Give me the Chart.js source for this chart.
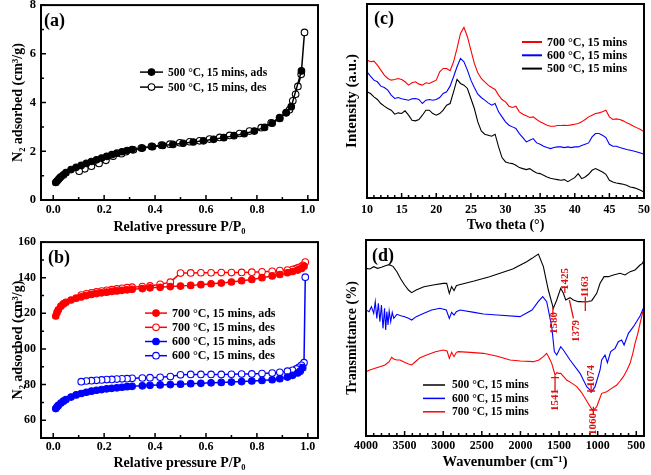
<!DOCTYPE html>
<html><head><meta charset="utf-8">
<script src="https://cdn.jsdelivr.net/npm/chart.js@4.4.0/dist/chart.umd.min.js"></script>
<style>
html,body{margin:0;padding:0;background:#fff;}
#wrap{position:relative;width:651px;height:475px;overflow:hidden;background:#fff;}
canvas{position:absolute;}
</style></head><body>
<div id="wrap">
<canvas id="cA" width="325" height="237" style="left:0;top:0"></canvas>
<canvas id="cB" width="325" height="238" style="left:0;top:237px"></canvas>
<canvas id="cC" width="326" height="237" style="left:325px;top:0"></canvas>
<canvas id="cD" width="326" height="238" style="left:325px;top:237px"></canvas>
</div>
<script>
// ---------- Panel (a): N2 isotherm, 500 °C ----------
const aAdsX = [0.01,0.015,0.02,0.025,0.03,0.04,0.05,0.07,0.09,0.11,0.13,0.15,0.17,0.19,0.21,0.23,0.25,0.27,0.29,0.31,0.35,0.39,0.43,0.47,0.51,0.55,0.59,0.63,0.67,0.71,0.75,0.79,0.83,0.86,0.89,0.915,0.935,0.975];
const aAdsY = [0.72,0.78,0.84,0.9,0.95,1.03,1.12,1.25,1.34,1.42,1.5,1.58,1.65,1.72,1.79,1.86,1.92,1.98,2.03,2.07,2.13,2.19,2.24,2.28,2.33,2.38,2.43,2.49,2.56,2.64,2.72,2.83,2.98,3.15,3.35,3.58,3.83,5.3];
const aDesX = [0.987,0.974,0.961,0.952,0.941,0.928,0.915,0.889,0.856,0.817,0.771,0.732,0.693,0.654,0.614,0.575,0.536,0.497,0.458,0.425,0.386,0.346,0.315,0.285,0.268,0.235,0.207,0.18,0.15,0.124,0.102];
const aDesY = [6.88,5.16,4.66,4.34,4.07,3.7,3.59,3.38,3.17,2.97,2.83,2.73,2.65,2.57,2.5,2.43,2.39,2.35,2.29,2.25,2.2,2.13,2.06,1.98,1.9,1.8,1.63,1.5,1.39,1.28,1.18];
const aXTicks = [0,0.2,0.4,0.6,0.8,1.0];
const aXLabels = ['0.0','0.2','0.4','0.6','0.8','1.0'];
const aYTicks = [0,2,4,6,8];
const aYLabels = ['0','2','4','6','8'];
const aSeriesNames = ['500 °C, 15 mins, ads','500 °C, 15 mins, des'];

// ---------- Panel (b): N2 isotherms, 600 / 700 °C ----------
const b700AdsX = [0.01,0.015,0.02,0.03,0.04,0.05,0.07,0.09,0.11,0.13,0.15,0.17,0.19,0.21,0.23,0.25,0.27,0.29,0.31,0.35,0.38,0.42,0.46,0.50,0.54,0.58,0.62,0.66,0.70,0.74,0.78,0.82,0.86,0.89,0.92,0.94,0.96,0.975,0.985];
const b700AdsY = [118.5,120.5,122,124,125.3,126.2,127.5,128.5,129.2,130,130.6,131.1,131.5,131.9,132.3,132.6,132.9,133.2,133.5,133.9,134.3,134.6,135,135.3,135.7,136.1,136.6,137,137.6,138.3,139,140,141,141.8,142.8,143.5,144.3,145.2,146.5];
const b700DesX = [0.99,0.98,0.97,0.96,0.95,0.94,0.92,0.89,0.86,0.82,0.78,0.74,0.70,0.66,0.62,0.58,0.54,0.50,0.46,0.42,0.38,0.35,0.31,0.29,0.27,0.25,0.23,0.21,0.19,0.17,0.15,0.13,0.11];
const b700DesY = [148.8,147,146,145.5,145,144.6,144.3,144,143.6,143.3,143.1,143,142.9,142.9,142.8,142.8,142.7,142.6,137.5,136.3,135.4,135,134.7,134.4,134.1,133.7,133.3,132.9,132.5,132,131.5,131,130.3];
const b600AdsX = [0.01,0.015,0.02,0.03,0.04,0.05,0.07,0.09,0.11,0.13,0.15,0.17,0.19,0.21,0.23,0.25,0.27,0.29,0.31,0.35,0.38,0.42,0.46,0.50,0.54,0.58,0.62,0.66,0.70,0.74,0.78,0.82,0.86,0.89,0.92,0.94,0.96,0.97,0.98];
const b600AdsY = [66.5,67.5,68.3,69.6,70.7,71.6,73,74.2,75,75.7,76.3,76.8,77.2,77.6,77.9,78.2,78.5,78.8,79,79.3,79.6,79.8,80,80.2,80.5,80.7,81,81.2,81.4,81.7,82,82.3,82.7,83.3,84.2,85.2,86.5,87.5,89.5];
const b600DesX = [0.99,0.985,0.975,0.965,0.955,0.94,0.92,0.89,0.86,0.82,0.78,0.74,0.70,0.66,0.62,0.58,0.54,0.50,0.46,0.42,0.38,0.35,0.31,0.29,0.27,0.25,0.23,0.21,0.19,0.17,0.15,0.13,0.11];
const b600DesY = [140.3,92.3,90.8,89.7,88.8,88,87.5,86.9,86.5,86.2,86,85.9,85.8,85.7,85.7,85.7,85.7,85.5,84.5,84.1,83.9,83.7,83.5,83.3,83.2,83.1,82.9,82.8,82.6,82.4,82.2,82,81.6];
const bXTicks = [0,0.2,0.4,0.6,0.8,1.0];
const bXLabels = ['0.0','0.2','0.4','0.6','0.8','1.0'];
const bYTicks = [60,80,100,120,140,160];
const bYLabels = ['60','80','100','120','140','160'];
const bSeriesNames = ['700 °C, 15 mins, ads','700 °C, 15 mins, des','600 °C, 15 mins, ads','600 °C, 15 mins, des'];

// ---------- Panel (c): XRD ----------
const cTheta = [10,10.5,11,11.5,12,12.5,13,13.5,14,14.5,15,15.5,16,16.5,17,17.5,18,18.5,19,19.5,20,20.5,21,21.5,22,22.5,23,23.5,24,24.5,25,25.5,26,26.5,27,27.5,28,28.5,29,29.5,30,30.5,31,31.5,32,32.5,33,33.5,34,34.5,35,35.5,36,36.5,37,37.5,38,38.5,39,39.5,40,40.5,41,41.5,42,42.5,43,43.5,44,44.5,45,45.5,46,46.5,47,47.5,48,48.5,49,49.5,50];
const c700 = [420,415,417,405,390,375,365,360,362,365, 362,355,345,352,355,348,345,352,350,355, 360,385,395,395,388,415,455,500,518,490, 450,410,382,365,355,345,338,332,315,302, 295,282,278,282,265,258,253,248,250,242, 235,230,225,222,222,224,224,225,224,226, 228,230,235,242,250,255,260,262,265,270, 250,242,244,242,238,232,228,222,217,212, 205];
const c600 = [385,372,360,355,342,338,330,315,305,308, 304,302,300,304,305,302,290,300,302,300, 302,308,320,325,342,370,400,425,415,390, 360,338,318,308,300,292,285,290,265,250, 235,225,220,215,200,188,175,180,185,172, 168,162,158,155,158,160,160,158,160,158, 160,160,164,168,172,190,200,200,195,188, 168,162,162,158,155,152,150,148,145,142, 138];
const c500 = [325,320,310,302,290,282,275,270,258,262, 260,268,255,240,238,242,255,270,270,260, 255,260,270,285,290,325,362,350,345,335, 305,275,235,208,198,195,192,198,160,128, 115,112,110,105,98,95,92,95,88,82, 80,75,70,66,64,62,60,62,56,62, 68,80,65,70,78,90,95,90,85,78, 60,55,52,50,48,45,40,38,35,30, 25];
const cXTicks = [10,15,20,25,30,35,40,45,50];
const cXLabels = ['10','15','20','25','30','35','40','45','50'];
const cSeriesNames = ['700 °C, 15 mins','600 °C, 15 mins','500 °C, 15 mins'];

// ---------- Panel (d): FTIR ----------
const d500X = [4000,3950,3900,3850,3800,3750,3700,3650,3600,3550,3500,3450,3410,3350,3250,3130,3000,2955,2921,2891,2860,2830,2804,2600,2400,2265,2100,1919,1850,1768,1703,1639,1574,1530,1479,1444,1414,1358,1315,1250,1142,1077,1012,969,917,861,796,710,645,580,516,451,420,400];
const d500T = [500,498,505,500,503,508,511,506,490,468,450,435,427,435,445,450,455,455,425,445,433,448,450,462,475,485,498,520,530,543,505,435,380,405,440,425,405,412,405,400,400,403,425,455,475,475,480,485,480,490,495,510,515,525];
const d600X = [4000,3960,3930,3900,3880,3860,3840,3820,3800,3780,3760,3745,3730,3715,3700,3680,3660,3640,3600,3550,3500,3450,3408,3350,3250,3150,3042,2960,2921,2891,2860,2830,2783,2600,2480,2300,2006,1850,1770,1712,1660,1595,1561,1530,1479,1444,1358,1228,1142,1077,1034,969,948,905,874,831,775,732,689,658,602,537,451,400];
const d600T = [375,370,385,365,400,350,395,340,390,320,380,315,370,330,372,340,368,350,362,358,355,350,345,355,365,375,380,375,350,368,360,370,375,368,363,360,355,375,400,415,400,325,250,240,265,255,225,185,145,130,145,195,225,240,217,250,260,280,285,270,305,325,357,385];
const d700X = [4000,4000,3950,3883,3820,3754,3700,3668,3640,3603,3560,3500,3450,3409,3350,3300,3215,3100,2999,2950,2921,2891,2860,2830,2804,2650,2480,2300,2135,2000,1833,1760,1703,1660,1630,1595,1552,1530,1500,1479,1440,1401,1330,1271,1210,1163,1110,1064,1040,1012,980,948,883,820,753,710,667,620,580,545,516,480,451,420,400];
const d700T = [0,190,195,200,205,210,220,233,228,225,225,218,213,210,222,232,240,250,255,252,230,248,235,248,250,248,245,236,225,222,220,225,235,245,232,215,180,187,185,185,175,165,155,145,128,110,90,73,78,85,105,125,130,140,150,162,175,195,215,245,275,305,335,365,385];
const dXTicks = [4000,3500,3000,2500,2000,1500,1000,500];
const dXLabels = ['4000','3500','3000','2500','2000','1500','1000','500'];
const dSeriesNames = ['500 °C, 15 mins','600 °C, 15 mins','700 °C, 15 mins'];
// peak labels (wavenumber label, placement in data units)
const dPeakNotes = [
  {text:'1580', tx:1565, ty:336, line:[[1580,384],[1580,360]]},
  {text:'1425', tx:1425, ty:468, line:[[1425,441],[1425,426]]},
  {text:'1379', tx:1275, ty:312, line:[[1366,405],[1314,350]]},
  {text:'1163', tx:1160, ty:445, line:[[1160,415],[1160,372]], cross:400},
  {text:'1074', tx:1085, ty:177, line:[[1085,150],[1085,126]], cross:132},
  {text:'1541', tx:1552, ty:105, line:[[1552,178],[1552,130]], cross:172},
  {text:'1060', tx:1056, ty:33,  line:[[1056,85],[1056,62]], cross:75}
];

// ---------- helpers ----------
const SERIF = '"Liberation Serif","Times New Roman",serif';
const pts = (xs, ys) => xs.map((x, i) => ({x: x, y: ys[i]}));

const framePlugin = {
  id: 'frame',
  afterDatasetsDraw(chart, args, o) {
    const {ctx, chartArea: a} = chart;
    const xs = chart.scales.x, ys = chart.scales.y;
    ctx.save();
    ctx.strokeStyle = '#000';
    ctx.lineWidth = 1.5;
    const drawTicks = (scale, majors, minorStep, horiz) => {
      const lo = Math.min(scale.min, scale.max), hi = Math.max(scale.min, scale.max);
      const ticks = [];
      majors.forEach(v => ticks.push([v, o.major]));
      if (minorStep) {
        for (let k = Math.ceil(lo / minorStep - 1e-9); k * minorStep <= hi + 1e-9; k++) {
          const v = k * minorStep;
          if (!majors.some(m => Math.abs(m - v) < 1e-9)) ticks.push([v, o.minor]);
        }
      }
      ctx.beginPath();
      ticks.forEach(([v, len]) => {
        const p = scale.getPixelForValue(v);
        if (horiz) { ctx.moveTo(p, a.bottom); ctx.lineTo(p, a.bottom - len); }
        else { ctx.moveTo(a.left, p); ctx.lineTo(a.left + len, p); }
      });
      ctx.stroke();
    };
    drawTicks(xs, o.xMajors, o.xMinor, true);
    if (o.yMajors) drawTicks(ys, o.yMajors, o.yMinor, false);
    ctx.lineWidth = 2;
    ctx.strokeRect(a.left, a.top, a.right - a.left, a.bottom - a.top);
    ctx.restore();
  }
};

const legendPlugin = {
  id: 'panelLegend',
  afterDraw(chart, args, o) {
    const {ctx, chartArea: a} = chart;
    ctx.save();
    ctx.font = o.font;
    ctx.textBaseline = 'middle';
    ctx.textAlign = 'left';
    o.order.forEach((di, row) => {
      const ds = chart.data.datasets[di];
      const y = a.top + o.dy + row * o.spacing;
      const x0 = a.left + o.dx, x1 = x0 + o.lineLen;
      ctx.strokeStyle = ds.borderColor;
      ctx.lineWidth = o.lineWidth;
      ctx.beginPath(); ctx.moveTo(x0, y); ctx.lineTo(x1, y); ctx.stroke();
      if (ds.pointRadius > 0) {
        ctx.beginPath();
        ctx.arc((x0 + x1) / 2, y, ds.pointRadius, 0, Math.PI * 2);
        ctx.fillStyle = ds.pointBackgroundColor;
        ctx.fill();
        ctx.lineWidth = ds.pointBorderWidth;
        ctx.strokeStyle = ds.pointBorderColor;
        ctx.stroke();
      }
      ctx.fillStyle = '#000';
      ctx.fillText(ds.label, x1 + o.gap, y + 0.5);
    });
    ctx.restore();
  }
};

const labelPlugin = {
  id: 'panelLabel',
  afterDraw(chart, args, o) {
    const {ctx, chartArea: a} = chart;
    ctx.save();
    ctx.font = 'bold 18px ' + SERIF;
    ctx.fillStyle = '#000';
    ctx.textBaseline = 'middle';
    ctx.fillText(o.text, a.left + o.dx, a.top + o.dy);
    ctx.restore();
  }
};

const peaksPlugin = {
  id: 'peaks',
  afterDatasetsDraw(chart, args, o) {
    if (!o.notes) return;
    const {ctx} = chart;
    const xs = chart.scales.x, ys = chart.scales.y;
    ctx.save();
    ctx.strokeStyle = o.color; ctx.fillStyle = o.color; ctx.lineWidth = 1.3;
    ctx.font = 'bold 11px ' + SERIF;
    ctx.textAlign = 'center'; ctx.textBaseline = 'middle';
    o.notes.forEach(n => {
      ctx.beginPath();
      ctx.moveTo(xs.getPixelForValue(n.line[0][0]), ys.getPixelForValue(n.line[0][1]));
      ctx.lineTo(xs.getPixelForValue(n.line[1][0]), ys.getPixelForValue(n.line[1][1]));
      if (n.cross !== undefined) {
        const cx = xs.getPixelForValue(n.line[0][0]), cy = ys.getPixelForValue(n.cross);
        ctx.moveTo(cx - 4, cy); ctx.lineTo(cx + 4, cy);
      }
      ctx.stroke();
      ctx.save();
      ctx.translate(xs.getPixelForValue(n.tx), ys.getPixelForValue(n.ty));
      ctx.rotate(-Math.PI / 2);
      ctx.fillText(n.text, 0, 0);
      ctx.restore();
    });
    ctx.restore();
  }
};

function axis(opt) {
  return {
    type: 'linear', min: opt.min, max: opt.max, reverse: !!opt.reverse,
    grid: {display: false, drawTicks: false}, border: {display: false},
    ticks: {
      display: !!opt.ticks, autoSkip: false, maxRotation: 0, minRotation: 0,
      padding: opt.pad || 3, color: '#000',
      font: {family: SERIF, size: opt.tickSize || 12, weight: 'bold'},
      callback: (v, i) => opt.labels ? opt.labels[i] : ''
    },
    title: {display: true, text: opt.title, color: '#000',
      font: {family: SERIF, size: opt.titleSize || 14, weight: 'bold'},
      padding: opt.titlePad},
    afterBuildTicks: sc => { sc.ticks = (opt.ticks || []).map(v => ({value: v})); },
    afterFit: sc => {
      if (opt.horizontal) { sc.height = opt.size; sc.paddingLeft = 0; sc.paddingRight = 0; }
      else { sc.width = opt.size; sc.paddingTop = 0; sc.paddingBottom = 0; }
    }
  };
}

function build(id, datasets, cfg) {
  return new Chart(document.getElementById(id), {
    type: 'scatter',
    data: {datasets: datasets},
    options: {
      responsive: false, animation: false, devicePixelRatio: 1,
      layout: {padding: {top: cfg.padTop, right: cfg.padRight, left: 0, bottom: 0}},
      plugins: {
        legend: {display: false}, tooltip: {enabled: false},
        frame: cfg.frame, panelLegend: cfg.legend, panelLabel: cfg.label,
        peaks: cfg.peaks || {}
      },
      scales: {x: cfg.x, y: cfg.y}
    },
    plugins: [framePlugin, peaksPlugin, legendPlugin, labelPlugin]
  });
}

function isoSet(label, xs, ys, color, filled, r) {
  return {
    label: label, data: pts(xs, ys), showLine: true,
    borderColor: color, borderWidth: 1.5,
    pointRadius: r, pointBorderWidth: 1.1,
    pointBackgroundColor: filled ? color : '#fff', pointBorderColor: color
  };
}
function lineSet(label, xs, ys, color) {
  return {label: label, data: pts(xs, ys), showLine: true, borderColor: color,
    borderWidth: 1.1, pointRadius: 0, pointBorderWidth: 0, tension: 0};
}

// ---- (a)
build('cA', [
  isoSet(aSeriesNames[0], aAdsX, aAdsY, '#000', true, 3.3),
  isoSet(aSeriesNames[1], aDesX, aDesY, '#000', false, 3.3)
], {
  padTop: 5, padRight: 7,
  x: axis({min: -0.048, max: 1.04, ticks: aXTicks, labels: aXLabels, horizontal: true, size: 37, pad: 3,
    title: 'Relative pressure P/P\u2080', titleSize: 14, titlePad: {top: 0, bottom: 1}}),
  y: axis({min: 0, max: 8, ticks: aYTicks, labels: aYLabels, size: 41, pad: 5, tickSize: 12.5,
    title: 'N\u2082 adsorbed (cm\u00B3/g)', titleSize: 14, titlePad: {top: 10, bottom: 0}}),
  frame: {xMajors: aXTicks, xMinor: 0.1, yMajors: aYTicks, yMinor: 1, major: 5, minor: 3},
  legend: {order: [0, 1], dx: 99, dy: 67, spacing: 15, lineLen: 23, gap: 5, lineWidth: 1.5, font: 'bold 11.5px ' + SERIF},
  label: {text: '(a)', dx: 3, dy: 16}
});

// ---- (b)
build('cB', [
  isoSet(bSeriesNames[0], b700AdsX, b700AdsY, '#ff0000', true, 3.3),
  isoSet(bSeriesNames[1], b700DesX, b700DesY, '#ff0000', false, 3.3),
  isoSet(bSeriesNames[2], b600AdsX, b600AdsY, '#0000ff', true, 3.3),
  isoSet(bSeriesNames[3], b600DesX, b600DesY, '#0000ff', false, 3.3)
], {
  padTop: 4, padRight: 7,
  x: axis({min: -0.048, max: 1.04, ticks: bXTicks, labels: bXLabels, horizontal: true, size: 37, pad: 2,
    title: 'Relative pressure P/P\u2080', titleSize: 14, titlePad: {top: 0, bottom: 3}}),
  y: axis({min: 50, max: 160, ticks: bYTicks, labels: bYLabels, size: 41, pad: 5, tickSize: 12,
    title: 'N\u2082 adsorbed (cm\u00B3/g)', titleSize: 14, titlePad: {top: 10, bottom: 0}}),
  frame: {xMajors: bXTicks, xMinor: 0.1, yMajors: bYTicks, yMinor: 10, major: 5, minor: 3},
  legend: {order: [0, 1, 2, 3], dx: 104, dy: 71, spacing: 14.2, lineLen: 22, gap: 5, lineWidth: 1.5, font: 'bold 12px ' + SERIF},
  label: {text: '(b)', dx: 7, dy: 16}
});

// ---- (c)
build('cC', [
  lineSet(cSeriesNames[0], cTheta, c700, '#ff0000'),
  lineSet(cSeriesNames[1], cTheta, c600, '#0000ff'),
  lineSet(cSeriesNames[2], cTheta, c500, '#000000')
], {
  padTop: 4, padRight: 7,
  x: axis({min: 10, max: 50, ticks: cXTicks, labels: cXLabels, horizontal: true, size: 39, pad: 5, tickSize: 12,
    title: 'Two theta (\u00B0)', titleSize: 14, titlePad: {top: 0, bottom: 3}}),
  y: axis({min: 7, max: 588, size: 42,
    title: 'Intensity (a.u.)', titleSize: 15, titlePad: {top: 18, bottom: 0}}),
  frame: {xMajors: cXTicks, xMinor: 1, major: 5, minor: 3},
  legend: {order: [0, 1, 2], dx: 155, dy: 38, spacing: 13.3, lineLen: 20, gap: 5, lineWidth: 2, font: 'bold 12px ' + SERIF},
  label: {text: '(c)', dx: 7, dy: 15}
});

// ---- (d)
build('cD', [
  lineSet(dSeriesNames[0], d500X, d500T, '#000000'),
  lineSet(dSeriesNames[1], d600X, d600T, '#0000ff'),
  lineSet(dSeriesNames[2], d700X, d700T, '#ff0000')
], {
  padTop: 3, padRight: 7,
  x: axis({min: 400, max: 4000, reverse: true, ticks: dXTicks, labels: dXLabels, horizontal: true, size: 39, pad: 3, tickSize: 12,
    title: 'Wavenumber (cm\u207B\u00B9)', titleSize: 14.5, titlePad: {top: 0, bottom: 4}}),
  y: axis({min: -3, max: 585, size: 41,
    title: 'Transmittance (%)', titleSize: 14, titlePad: {top: 19, bottom: 0}}),
  frame: {xMajors: dXTicks, xMinor: 100, major: 5, minor: 3},
  legend: {order: [0, 1, 2], dx: 57, dy: 145, spacing: 13.4, lineLen: 22, gap: 7, lineWidth: 1.5, font: 'bold 11.5px ' + SERIF},
  label: {text: '(d)', dx: 6, dy: 16.5},
  peaks: {notes: dPeakNotes, color: '#dd1111'}
});
</script>
</body></html>
